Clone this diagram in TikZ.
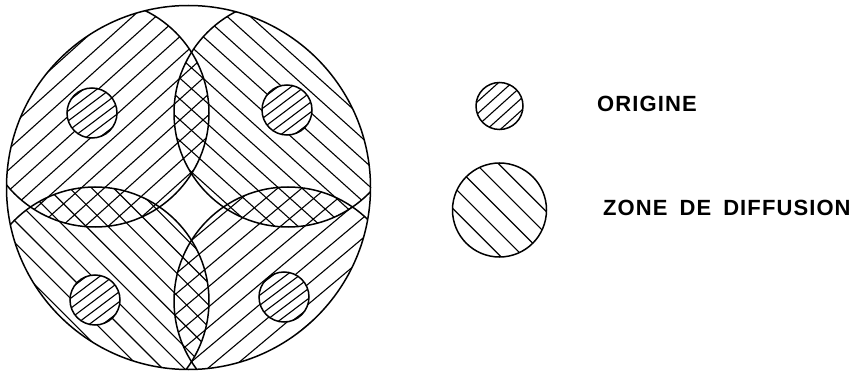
\documentclass[tikz,border=0pt]{standalone}
\usepackage{fontspec}
\newfontfamily\legendfont[LetterSpace=5]{Liberation Sans}
\newcommand\hatchlines[4]{%
  \begin{scope}[shift={(#1)}, rotate=#2]
    \foreach \k in {-#4,...,#4}
      \draw[hatchline] (-260pt,{\k*#3pt}) -- (260pt,{\k*#3pt});
  \end{scope}}
\tikzset{
  outline/.style={line width=1.5pt, black},
  hatchline/.style={line width=1.1pt, black},
  legendtext/.style={font=\legendfont\bfseries\fontsize{22}{22}\selectfont, inner sep=0pt, anchor=west}
}
\begin{document}
\begin{tikzpicture}[x=1pt,y=-1pt]
\useasboundingbox (0,0) rectangle (854,374);
\def\R{182pt}\def\r{114pt}\def\ro{25pt}
\coordinate (O) at (188.5,187.5);
\coordinate (tl) at (95,113);
\coordinate (tr) at (288,113);
\coordinate (bl) at (95,301);
\coordinate (br) at (288,301);
\coordinate (otl) at (92,113);
\coordinate (otr) at (287,110);
\coordinate (obl) at (95,300);
\coordinate (obr) at (284,297);
\coordinate (lo) at (499.5,106);
\coordinate (ld) at (499.5,210);
% diffusion zones (hatched, clipped to the big circle)
\foreach \c/\a in {tl/42, tr/-42, bl/-45, br/40}{
  \begin{scope}
    \clip (O) circle[radius=\R];
    \clip (\c) circle[radius=\r];
    \hatchlines{\c}{\a}{15.5}{10}
  \end{scope}
}
% zone outlines
\begin{scope}
  \clip (O) circle[radius=\R];
  \foreach \c in {tl,tr,bl,br}
    \draw[outline] (\c) circle[radius=\r];
\end{scope}
\draw[outline] (O) circle[radius=\R];
% origins
\foreach \c in {otl,otr,obl,obr}{
  \fill[white] (\c) circle[radius=\ro];
  \begin{scope}
    \clip (\c) circle[radius=\ro];
    \hatchlines{\c}{37}{8}{4}
  \end{scope}
  \draw[outline] (\c) circle[radius=\ro];
}
% legend
\begin{scope}
  \clip (lo) circle[radius=23.5pt];
  \hatchlines{lo}{42}{9}{3}
\end{scope}
\draw[outline] (lo) circle[radius=23.5pt];
\begin{scope}
  \clip (ld) circle[radius=47pt];
  \hatchlines{ld}{-45}{16}{4}
\end{scope}
\draw[outline] (ld) circle[radius=47pt];
\node[legendtext] (torig) at (597,104) {ORIGINE};
\node[legendtext] (tzone) at (603,208) {ZONE\hspace{12pt}DE\hspace{12pt}DIFFUSION};
\end{tikzpicture}
\end{document}
